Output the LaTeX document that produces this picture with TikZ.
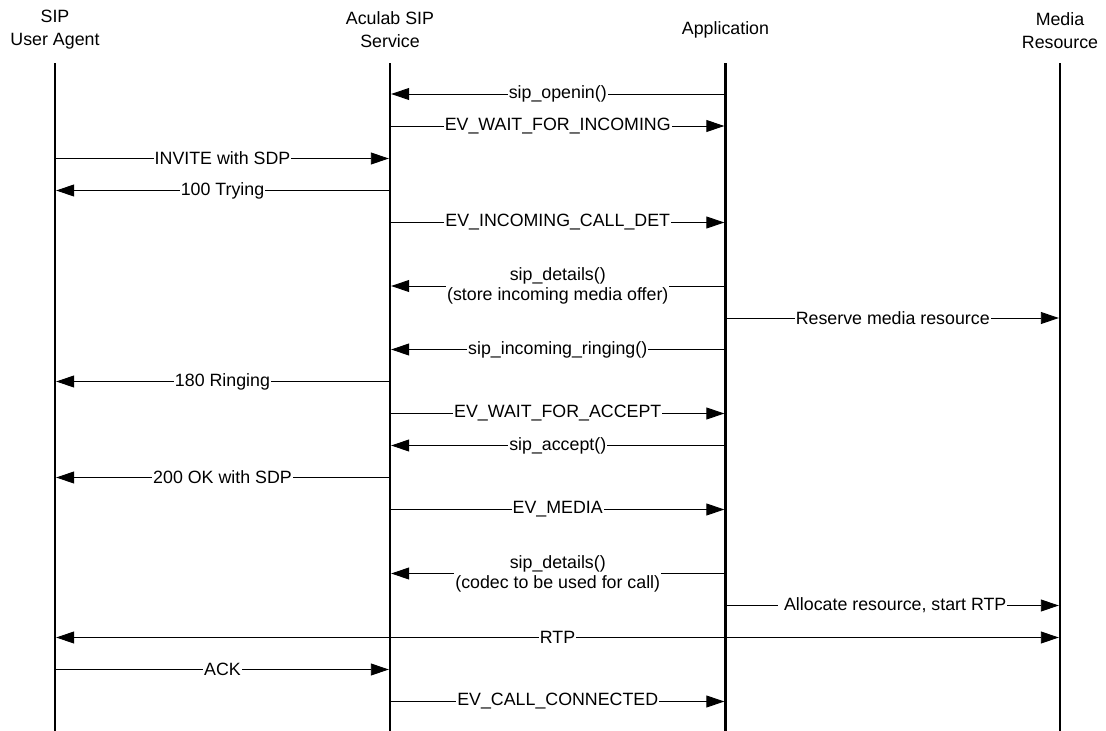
\documentclass[tikz,border=0pt]{standalone}
\usepackage{fontspec}
\setmainfont{Liberation Sans}
\usetikzlibrary{arrows.meta}

% one message: id, from lifeline, to lifeline, row, label
\newcommand\sqmsg[5]{%
  \coordinate (#1s) at (#2 |- 0,#4);
  \coordinate (#1e) at (#3 |- 0,#4);
  \draw[msgline] (#1s) -- node[msglabel]{#5} (#1e);
}

\begin{document}
\begin{tikzpicture}[x=1pt,y=-1pt,
  every node/.style={font=\fontsize{17.8}{21}\selectfont},
  header/.style={align=center, inner sep=0pt, font=\fontsize{17.8}{23}\selectfont},
  lifeline/.style={line width=2.5pt},
  msgline/.style={line width=0.9pt, -{Triangle[length=18pt,width=12pt]}, shorten >=1.2pt},
  msglabel/.style={fill=white, inner xsep=1pt, inner ysep=0.5pt, align=center,
                   font=\fontsize{17.8}{20}\selectfont},
]
\useasboundingbox (0,0) rectangle (1106,731);

% participants
\node[header] (hua)  at (55,30)    {SIP\\User Agent};
\node[header] (hsvc) at (390,30)   {Aculab SIP\\Service};
\node[header] (happ) at (725.5,30) {Application};
\node[header] (hmed) at (1060,31)  {Media\\Resource};

% lifelines
\coordinate (ua)  at (55,63);
\coordinate (svc) at (390,63);
\coordinate (app) at (725.5,63);
\coordinate (med) at (1060,63);
\coordinate (uab)  at (55,731);
\coordinate (svcb) at (390,731);
\coordinate (appb) at (725.5,731);
\coordinate (medb) at (1060,731);
\draw[lifeline] (ua) -- (uab);
\draw[lifeline] (svc) -- (svcb);
\draw[lifeline] (app) -- (appb);
\draw[lifeline] (med) -- (medb);

% messages
\sqmsg{m1}{app}{svc}{94}{sip\_openin()}
\sqmsg{m2}{svc}{app}{126}{EV\_WAIT\_FOR\_INCOMING}
\sqmsg{m3}{ua}{svc}{158.5}{INVITE with SDP}
\sqmsg{m4}{svc}{ua}{190.5}{100 Trying}
\sqmsg{m5}{svc}{app}{222.5}{EV\_INCOMING\_CALL\_DET}
\sqmsg{m6}{app}{svc}{286}{sip\_details()\\(store incoming media offer)}
\sqmsg{m7}{app}{med}{318}{Reserve media resource}
\sqmsg{m8}{app}{svc}{349.5}{sip\_incoming\_ringing()}
\sqmsg{m9}{svc}{ua}{381.5}{180 Ringing}
\sqmsg{m10}{svc}{app}{413.5}{EV\_WAIT\_FOR\_ACCEPT}
\sqmsg{m11}{app}{svc}{445.5}{sip\_accept()}
\sqmsg{m12}{svc}{ua}{477.5}{200 OK with SDP}
\sqmsg{m13}{svc}{app}{509.5}{EV\_MEDIA}
\sqmsg{m14}{app}{svc}{573.5}{sip\_details()\\(codec to be used for call)}
\sqmsg{m15}{app}{med}{605.5}{~Allocate resource, start RTP}
% RTP flows both ways
\coordinate (rtps) at (ua |- 0,637.5);
\coordinate (rtpe) at (med |- 0,637.5);
\draw[msgline, {Triangle[length=18pt,width=12pt]}-{Triangle[length=18pt,width=12pt]}, shorten <=1.2pt]
  (rtps) -- node[msglabel]{RTP} (rtpe);
\sqmsg{m17}{ua}{svc}{669.5}{ACK}
\sqmsg{m18}{svc}{app}{701.5}{EV\_CALL\_CONNECTED}
\end{tikzpicture}
\end{document}
